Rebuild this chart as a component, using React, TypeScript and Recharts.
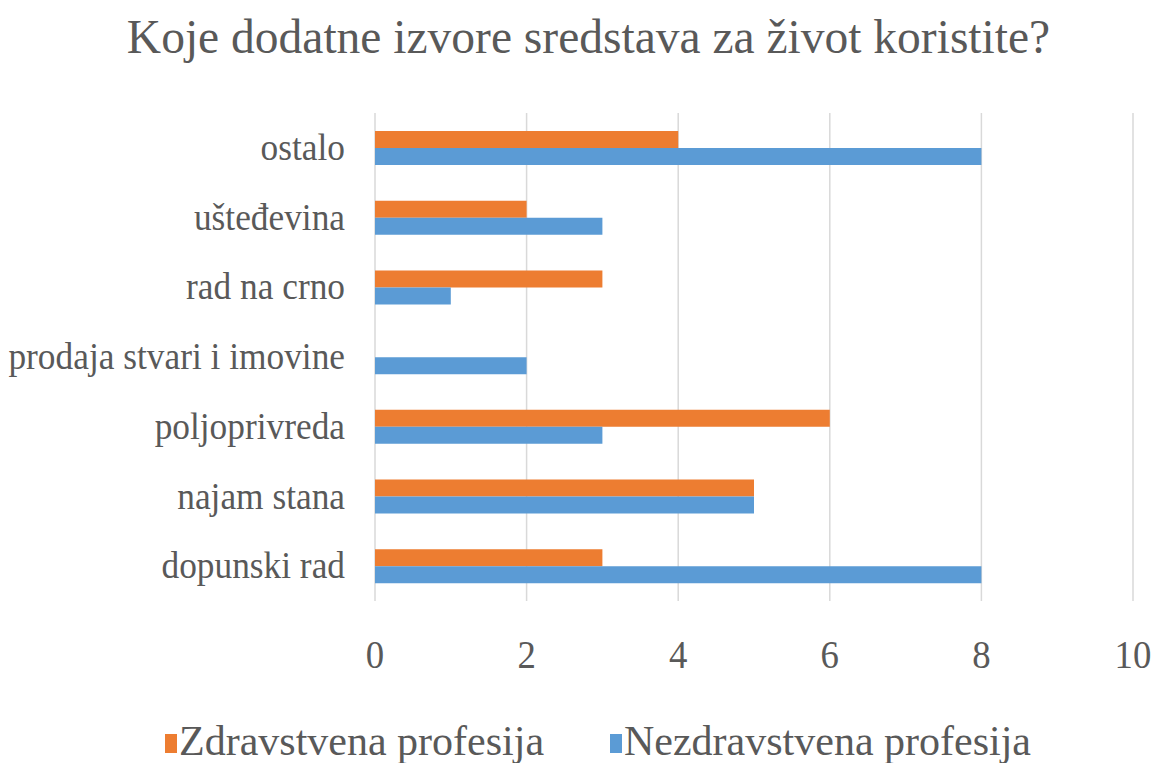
import React from "react";
import { BarChart, Bar, XAxis, YAxis, CartesianGrid, Legend } from "recharts";

const categories = [
  "ostalo",
  "ušteđevina",
  "rad na crno",
  "prodaja stvari i imovine",
  "poljoprivreda",
  "najam stana",
  "dopunski rad",
];
const zdravstvena = [4, 2, 3, 0, 6, 5, 3];
const nezdravstvena = [8, 3, 1, 2, 3, 5, 8];
const xTicks = [0, 2, 4, 6, 8, 10];

const seriesNames = ["Zdravstvena profesija", "Nezdravstvena profesija"];
const colors = ["#ed7d31", "#5b9bd5"];

const data = categories.map((name, i) => ({
  name,
  zdr: zdravstvena[i],
  nezdr: nezdravstvena[i],
}));

const FONT = "'Times New Roman', 'Liberation Serif', serif";
const TEXT = "#595959";

function YTick(props: any) {
  const { x, y, payload } = props;
  return (
    <g transform={`translate(${x},${y})`}>
      <text
        transform="scale(0.93,1)"
        textAnchor="end"
        dy="0.32em"
        fill={TEXT}
        style={{ fontFamily: FONT }}
        fontSize={38}
      >
        {payload.value}
      </text>
    </g>
  );
}

function XTick(props: any) {
  const { x, y, payload } = props;
  return (
    <g transform={`translate(${x},${y})`}>
      <text
        transform="scale(0.92,1)"
        textAnchor="middle"
        y={59}
        fill={TEXT}
        style={{ fontFamily: FONT }}
        fontSize={40}
      >
        {payload.value}
      </text>
    </g>
  );
}

function renderLegend() {
  return (
    <div
      style={{
        height: 48,
        position: "relative",
        fontFamily: FONT,
        color: TEXT,
        fontSize: 42,
      }}
    >
      {seriesNames.map((n, i) => (
        <div
          key={n}
          style={{
            position: "absolute",
            left: i === 0 ? 165 : 610,
            top: 3,
            display: "flex",
            alignItems: "center",
            whiteSpace: "nowrap",
          }}
        >
          <span
            style={{
              display: "inline-block",
              width: 12,
              height: 19,
              background: colors[i],
              marginRight: 2,
              marginTop: 4,
            }}
          />
          <span style={{ lineHeight: "46px" }}>{n}</span>
        </div>
      ))}
    </div>
  );
}

export default function App() {
  return (
    <div
      style={{
        position: "absolute",
        left: 0,
        top: 0,
        width: 1157,
        height: 763,
        background: "#fff",
        overflow: "hidden",
      }}
    >
      <div
        style={{
          position: "absolute",
          left: 10,
          top: 7,
          width: 1157,
          textAlign: "center",
          fontFamily: FONT,
          color: TEXT,
          fontSize: 47.5,
          lineHeight: "60px",
          whiteSpace: "nowrap",
        }}
      >
        Koje dodatne izvore sredstava za život koristite?
      </div>
      <BarChart
        width={1157}
        height={763}
        data={data}
        layout="vertical"
        margin={{ top: 113, right: 24, bottom: 0, left: 0 }}
        barSize={17}
        barGap={0}
      >
        <CartesianGrid
          horizontal={false}
          stroke="#d9d9d9"
          strokeWidth={1.5}
        />
        <XAxis
          type="number"
          domain={[0, 10]}
          ticks={xTicks}
          axisLine={false}
          tickLine={false}
          height={114}
          tick={<XTick />}
          interval={0}
        />
        <YAxis
          type="category"
          dataKey="name"
          width={375}
          axisLine={false}
          tickLine={false}
          tickMargin={24}
          tick={<YTick />}
          interval={0}
        />
        <Legend
          verticalAlign="bottom"
          height={48}
          content={renderLegend}
        />
        <Bar
          dataKey="zdr"
          name={seriesNames[0]}
          fill={colors[0]}
          isAnimationActive={false}
        />
        <Bar
          dataKey="nezdr"
          name={seriesNames[1]}
          fill={colors[1]}
          isAnimationActive={false}
        />
      </BarChart>
    </div>
  );
}
